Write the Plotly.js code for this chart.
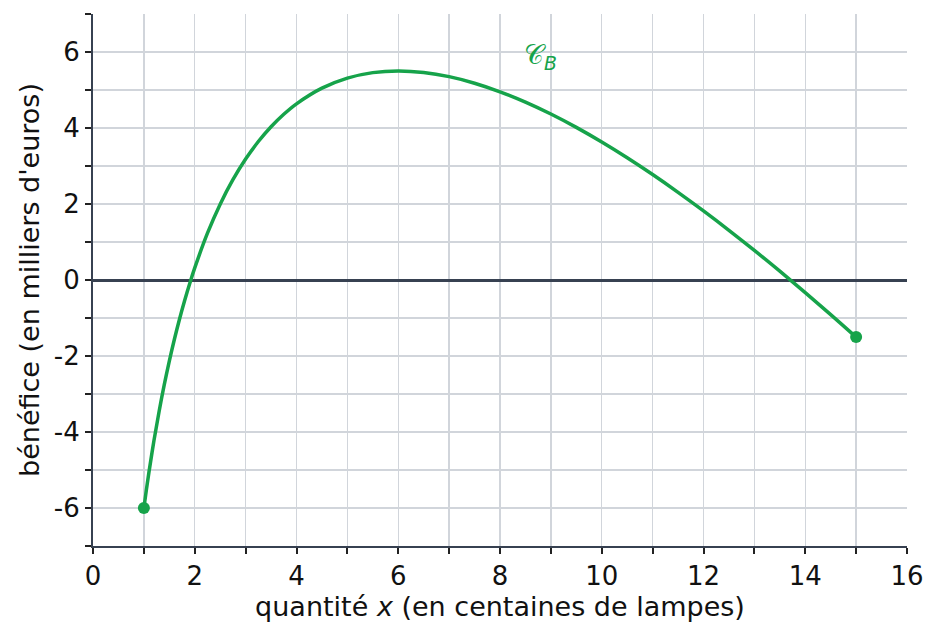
<!DOCTYPE html>
<html>
<head>
<meta charset="utf-8">
<script src="https://cdn.plot.ly/plotly-3.0.1.min.js"></script>
<style>html,body{margin:0;padding:0;background:#fff;}#chart{width:939px;height:639px;}</style>
</head>
<body>
<div id="chart"></div>
<script>
// Curve C_B : profit (thousands of euros) vs quantity (hundreds of lamps)
const xValues = [1, 1.05, 1.1, 1.2, 1.3, 1.4, 1.5, 1.6, 1.7, 1.8, 1.9, 2, 2.25, 2.5, 2.75, 3, 3.25, 3.5, 3.75, 4, 4.5, 5, 5.5, 6, 6.5, 7, 7.5, 8, 8.5, 9, 9.5, 10, 10.5, 11, 11.5, 12, 12.5, 13, 13.5, 14, 14.5, 15];
const yValues = [-6, -5.515, -5.056, -4.212, -3.452, -2.762, -2.134, -1.56, -1.032, -0.547, -0.098, 0.318, 1.231, 1.996, 2.639, 3.183, 3.644, 4.033, 4.361, 4.636, 5.049, 5.313, 5.457, 5.502, 5.462, 5.351, 5.179, 4.953, 4.681, 4.367, 4.016, 3.631, 3.217, 2.775, 2.308, 1.819, 1.309, 0.779, 0.232, -0.331, -0.91, -1.503];
const endX = [1, 15];
const endY = [-6, -1.5];
const xTickVals = [0, 2, 4, 6, 8, 10, 12, 14, 16];
const xTickText = ['0', '2', '4', '6', '8', '10', '12', '14', '16'];
const yTickVals = [-6, -4, -2, 0, 2, 4, 6];
const yTickText = ['-6', '-4', '-2', '0', '2', '4', '6'];
const curveLabel = '𝒞<sub><i>B</i></sub>';
const labelPos = [8.8, 5.87];

const green = '#16a34a';
const axisColor = '#374151';
const gridColor = '#d1d5db';
const font = 'DejaVu Sans, sans-serif';

const traces = [
  {x: xValues, y: yValues, mode: 'lines', line: {color: green, width: 3.5, shape: 'spline', smoothing: 1}, hoverinfo: 'skip'},
  {x: endX, y: endY, mode: 'markers', marker: {color: green, size: 12}, hoverinfo: 'skip'}
];

const minorCfg = {tick0: 0, dtick: 1, ticks: 'outside', ticklen: 6, tickwidth: 2, tickcolor: '#222', showgrid: true, gridcolor: gridColor, gridwidth: 1.3};

const layout = {
  width: 939, height: 639,
  margin: {l: 93, r: 32, t: 14, b: 93},
  showlegend: false,
  paper_bgcolor: '#fff', plot_bgcolor: '#fff',
  font: {family: font, size: 26, color: '#111'},
  xaxis: {
    range: [0, 16], tickmode: 'array', tickvals: xTickVals, ticktext: xTickText,
    minor: minorCfg,
    showgrid: true, gridcolor: gridColor, gridwidth: 1.3,
    zeroline: false, showline: true, linecolor: axisColor, linewidth: 2,
    ticks: 'outside', ticklen: 6, tickwidth: 2, tickcolor: '#222',
    tickfont: {family: font, size: 26, color: '#111'},
    title: {text: 'quantité <i>x</i> (en centaines de lampes)', font: {family: font, size: 27, color: '#111'}, standoff: 5}
  },
  yaxis: {
    range: [-7, 7], tickmode: 'array', tickvals: yTickVals, ticktext: yTickText,
    minor: minorCfg,
    showgrid: true, gridcolor: gridColor, gridwidth: 1.3,
    zeroline: true, zerolinecolor: axisColor, zerolinewidth: 3,
    showline: true, linecolor: axisColor, linewidth: 2,
    ticks: 'outside', ticklen: 6, tickwidth: 2, tickcolor: '#222',
    tickfont: {family: font, size: 26, color: '#111'},
    title: {text: "bénéfice (en milliers d'euros)", font: {family: font, size: 27, color: '#111'}, standoff: 6}
  },
  annotations: [{
    x: labelPos[0], y: labelPos[1], xref: 'x', yref: 'y', text: curveLabel, showarrow: false,
    font: {family: font, size: 27, color: green}
  }]
};

Plotly.newPlot('chart', traces, layout, {staticPlot: true, displayModeBar: false});
</script>
</body>
</html>
